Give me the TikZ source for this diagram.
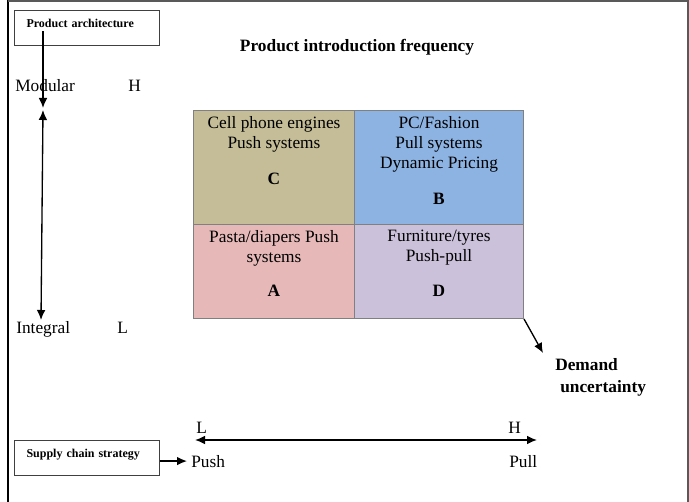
\documentclass[tikz,border=0pt]{standalone}
\usepackage{fontspec}
\setmainfont{Liberation Serif}
\usetikzlibrary{arrows.meta,positioning,calc}
\definecolor{scCellC}{HTML}{C4BD97}
\definecolor{scCellB}{HTML}{8DB3E2}
\definecolor{scCellA}{HTML}{E6B9B8}
\definecolor{scCellD}{HTML}{CCC1DA}
\definecolor{scEdge}{HTML}{808080}
\tikzset{
  labelbox/.style={
    draw=black!75, line width=0.8pt, anchor=north west, align=left,
    inner xsep=9pt, inner ysep=0pt, text width=90.75pt, minimum height=26pt,
    text height=13pt, text depth=13pt, font=\fontsize{9}{11}\selectfont\bfseries
  },
  cell/.style={draw=scEdge, line width=0.8pt, anchor=north west, inner sep=0pt},
  celltext/.style={font=\fontsize{13}{15}\selectfont, align=center, inner sep=0pt, anchor=north},
  cellmark/.style={font=\fontsize{13}{15}\selectfont\bfseries, inner sep=0pt, anchor=base},
  axistext/.style={font=\fontsize{13}{15}\selectfont, inner sep=0pt, anchor=base west},
  headtext/.style={font=\fontsize{13}{17}\selectfont\bfseries, inner sep=0pt},
  axisarrow/.style={{Latex[length=7.5pt,width=6.5pt]}-{Latex[length=7.5pt,width=6.5pt]}, line width=1pt},
  pointer/.style={-{Latex[length=7.5pt,width=6.5pt]}, line width=1pt}
}

\begin{document}
\begin{tikzpicture}[x=0.75pt, y=-0.75pt]
  \useasboundingbox (0,0) rectangle (689,502);
  % page frame
  \draw[line width=2.2pt] (8,0) -- (8,502);
  \draw[black!65, line width=1.2pt] (8,1) -- (688,1) -- (688,502);

  % product architecture axis
  \node[labelbox] (archbox) at (14,10) {Product architecture};
  \node[axistext] (modular) at (15,92) {Modular};
  \node[axistext] (archhigh) at (128,92) {H};
  \node[axistext] (integral) at (16,334) {Integral};
  \node[axistext] (archlow) at (117,334) {L};
  \coordinate (modtip) at (43,108);
  \coordinate (modtop) at (43,110);
  \coordinate (intbot) at (41,320);
  \draw[pointer] ($(archbox.base -| modtip)+(0,3.5)$) -- (modtip);
  \draw[axisarrow] (modtop) -- (intbot);

  \node[headtext, anchor=base] (title) at (357,52) {Product introduction frequency};

  % the four quadrants
  \node[cell, fill=scCellC, minimum width=120.75pt, minimum height=85.5pt] (cellC) at (193,110) {};
  \node[cell, fill=scCellB, minimum width=126.75pt, minimum height=85.5pt] (cellB) at (354,110) {};
  \node[cell, fill=scCellA, minimum width=120.75pt, minimum height=70.5pt] (cellA) at (193,224) {};
  \node[cell, fill=scCellD, minimum width=126.75pt, minimum height=70.5pt] (cellD) at (354,224) {};

  \node[celltext] (textC) at (274,116) {Cell phone engines\\Push systems};
  \node[celltext] (textB) at (439,116) {PC/Fashion\\Pull systems\\Dynamic Pricing};
  \node[celltext] (textA) at (274,230) {Pasta/diapers Push\\systems};
  \node[celltext] (textD) at (439,230) {Furniture/tyres\\Push-pull};
  \node[cellmark] (markC) at (274,185) {C};
  \node[cellmark] (markB) at (439,205) {B};
  \node[cellmark] (markA) at (274,297) {A};
  \node[cellmark] (markD) at (439,297) {D};

  % demand uncertainty
  \node[headtext, anchor=north west, align=left] (demand) at (555,358) {Demand\\\hspace*{3.75pt}uncertainty};
  \coordinate (demtip) at (543,353);
  \draw[pointer] (cellD.south east) -- (demtip);

  % supply chain strategy axis
  \node[labelbox] (scbox) at (14,440) {Supply chain strategy};
  \node[axistext] (pushlow) at (196,433) {L};
  \node[axistext] (pullhigh) at (508,433) {H};
  \node[axistext] (push) at (191,467) {Push};
  \node[axistext] (pull) at (509,467) {Pull};
  \coordinate (pushend) at (195,440);
  \coordinate (pullend) at (537,440);
  \draw[axisarrow] (pushend) -- (pullend);
  \draw[pointer, shorten >=3pt] (scbox.east |- push.west) -- (push.west);
\end{tikzpicture}
\end{document}
